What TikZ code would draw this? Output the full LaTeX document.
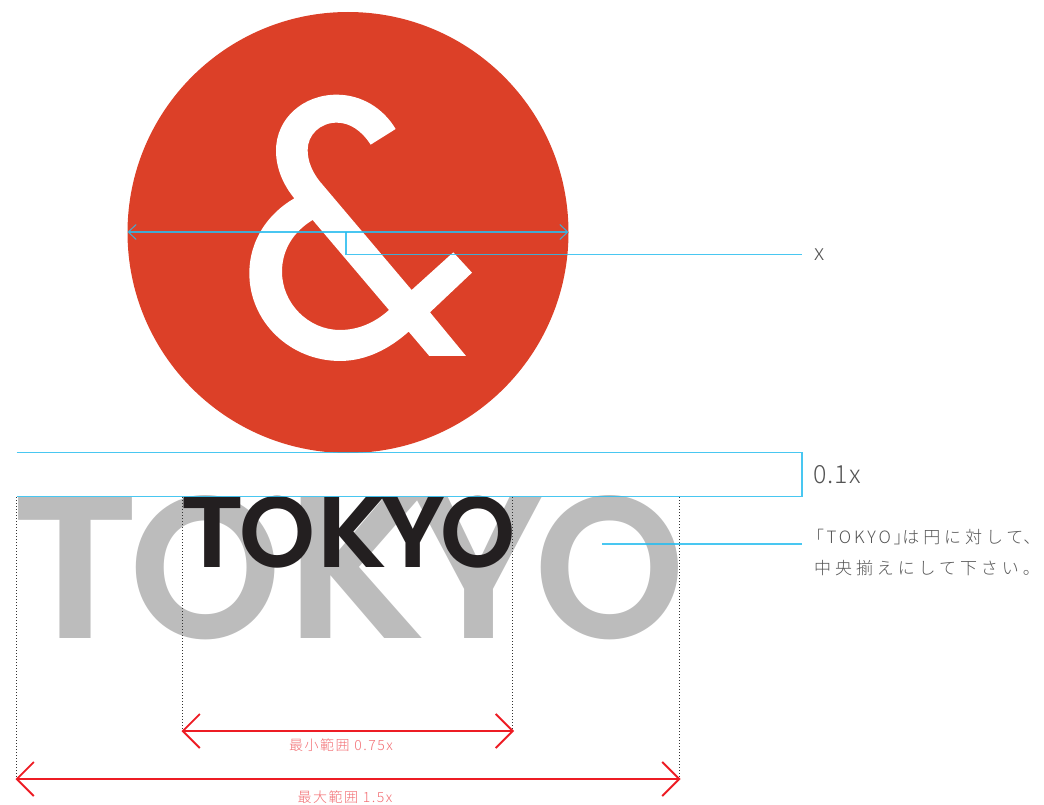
\documentclass[tikz,border=0pt]{standalone}
\usepackage{fontspec}
\usepackage{graphicx}
\usetikzlibrary{arrows.meta}
\newfontfamily\logofont{Poppins SemiBold}
\newfontfamily\jpfont{Noto Sans CJK JP Light}
\newfontfamily\jpfonttenth[LetterSpace=4]{Noto Sans CJK JP Light}
\newfontfamily\jpfontsp[LetterSpace=23]{Noto Sans CJK JP Light}
\newfontfamily\jpfontp[LetterSpace=17,RawFeature=+palt]{Noto Sans CJK JP Light}
\newfontfamily\jpfontm[LetterSpace=11]{Noto Sans CJK JP Light}
\definecolor{disc}{HTML}{DC4028}
\definecolor{guide}{HTML}{29BDEF}
\definecolor{measure}{HTML}{ED1C24}
\definecolor{measuretext}{HTML}{F26E73}
\definecolor{ghost}{HTML}{BCBCBC}
\definecolor{logoink}{HTML}{231F20}
\definecolor{note}{HTML}{555555}
\newcommand\lettermark[3]{\rlap{\kern#1pt\scalebox{#2}[1]{#3}}}
\newcommand\wordmark{\makebox[663pt][l]{\fontsize{202}{202}\logofont
  \lettermark{-6}{1.10}{T}\lettermark{112}{0.96}{O}\lettermark{269}{1.05}{K}\lettermark{396}{1.02}{Y}\lettermark{517}{0.95}{O}}}
\tikzset{
  guideline/.style={draw=guide,line width=1.15pt,opacity=.85},
  extent/.style={draw=black!80,line width=.9pt,dash pattern=on 1pt off 2pt},
  measureline/.style={draw=measure,line width=1.8pt,{Straight Barb[length=17pt,width=34pt,line width=1.8pt]}-{Straight Barb[length=17pt,width=34pt,line width=1.8pt]}},
  notetext/.style={text=note,inner sep=0pt,anchor=west},
  measurelabel/.style={text=measuretext,inner sep=0pt,font=\jpfontm\fontsize{14}{16}\selectfont}
}
\begin{document}
\begin{tikzpicture}[x=1pt,y=-1pt]
\useasboundingbox (0,0) rectangle (1044,805);
% disc and ampersand
\node[circle,fill=disc,minimum size=441pt,inner sep=0pt,draw=none] (disc) at (348,232.5) {};
\begin{scope}[shift={(230,80)},x=0.3333pt,y=-0.3333pt]
\fill[white,even odd rule]
 (497,147) -- (422,194) .. controls (395,152) and (360,128) .. (320,128)
 .. controls (270,128) and (233,165) .. (233,210)
 .. controls (233,245) and (248,278) .. (270,305)
 -- (545,630) -- (670,517) -- (726,578) -- (600,697) -- (708,828) -- (598,828) -- (536,755)
 .. controls (480,805) and (410,843) .. (330,843)
 .. controls (180,843) and (58,725) .. (58,580)
 .. controls (58,480) and (115,400) .. (193,355)
 .. controls (160,315) and (138,265) .. (138,212)
 .. controls (138,115) and (220,44) .. (320,44)
 .. controls (395,44) and (460,85) .. (497,147) -- cycle
 (248,420) .. controls (190,455) and (156,510) .. (156,575)
 .. controls (156,670) and (235,750) .. (330,750)
 .. controls (385,750) and (435,728) .. (477,690) -- cycle;
\end{scope}
% TOKYO wordmarks
\node[inner sep=0pt,text=ghost,anchor=base west] (big) at (17,638) {\wordmark};
\node[inner sep=0pt,text=logoink,anchor=base west] (small) at (183,567.3) {\scalebox{0.4985}{\wordmark}};
% coordinates
\coordinate (dl) at (127.5,232);
\coordinate (dr) at (568.5,232);
\coordinate (dm) at (346,232);
\coordinate (xl) at (802,254.8);
\coordinate (bt) at (16.7,452.8);
\coordinate (bb) at (16.7,496.6);
\coordinate (rt) at (802,452.8);
\coordinate (rb) at (802,496.6);
\coordinate (pl) at (602,544);
\coordinate (pr) at (802,544);
\coordinate (a1) at (16.5,497);
\coordinate (a2) at (182.5,497);
\coordinate (a3) at (512.8,497);
\coordinate (a4) at (679.5,497);
\coordinate (e1) at (16.5,779);
\coordinate (e2) at (182.5,731);
\coordinate (e3) at (512.8,731);
\coordinate (e4) at (679.5,779);
\coordinate (m1) at (181.5,731);
\coordinate (m2) at (514,731);
\coordinate (m3) at (15.5,779);
\coordinate (m4) at (680.5,779);
% guides
\draw[guideline,{Straight Barb[length=8pt,width=15pt,line width=1pt]}-{Straight Barb[length=8pt,width=15pt,line width=1pt]}] (dl) -- (dr);
\draw[guideline] (dm) |- (xl);
\draw[guideline] (bt) -- (rt) -- (rb) -- (bb);
\draw[guideline] (pl) -- (pr);
% extents
\draw[extent] (a1) -- (e1);
\draw[extent] (a2) -- (e2);
\draw[extent] (a3) -- (e3);
\draw[extent] (a4) -- (e4);
\draw[measureline] (m1) -- (m2);
\draw[measureline] (m3) -- (m4);
% labels
\node[notetext,font=\jpfont\fontsize{22}{24}\selectfont] (xlabel) at (814,255) {x};
\node[notetext,font=\jpfonttenth\fontsize{25}{28}\selectfont] (tenth) at (813,475) {0.1x};
\node[notetext,font=\jpfontsp\fontsize{17}{20}\selectfont] (n1) at (815,537) {{\jpfontp\fontsize{17}{20}\selectfont 「TOKYO」}は円に対して{\jpfontp\fontsize{17}{20}\selectfont 、}};
\node[notetext,font=\jpfontsp\fontsize{17}{20}\selectfont] (n2) at (814,568) {中央揃えにして下さい。};
\node[measurelabel] (minlabel) at (341,745) {最小範囲 0.75x};
\node[measurelabel] (maxlabel) at (345,797) {最大範囲 1.5x};
\end{tikzpicture}
\end{document}
